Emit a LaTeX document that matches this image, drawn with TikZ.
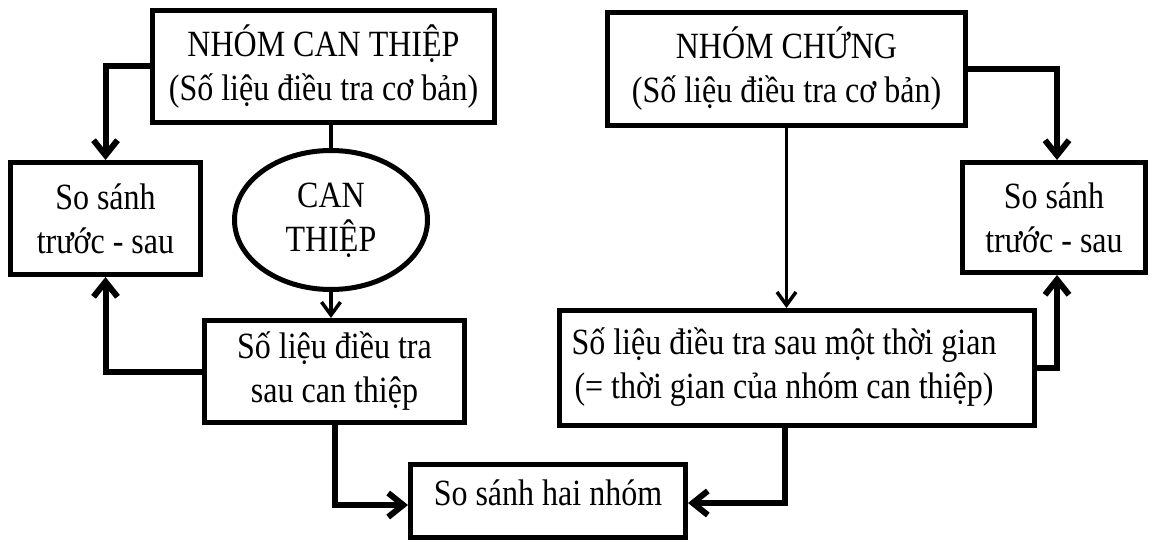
\documentclass[tikz,border=0pt]{standalone}
\usepackage{fontspec}
\setmainfont{Liberation Serif}[FakeStretch=0.865]
\usetikzlibrary{arrows.meta,shapes.geometric}
\begin{document}
\begin{tikzpicture}[x=1pt,y=-1pt,
  every node/.style={font=\fontsize{37}{44}\selectfont},
  box/.style={draw, rectangle, line width=5pt, align=center, inner sep=2pt},
  oval/.style={draw, ellipse, line width=5pt, align=center, inner sep=0pt},
  thickarrow/.style={line width=6pt, -{Straight Barb[length=15pt,width=24pt]}},
  thinarrow/.style={line width=3.5pt, -{Straight Barb[length=13pt,width=19pt]}},
  thinline/.style={line width=3.5pt},
  thickline/.style={line width=6pt}]
\useasboundingbox (0,0) rectangle (1152,543);
\node[box, minimum width=342pt, minimum height=112pt] (A) at (323.5,66.5)
  {NHÓM CAN THIỆP\\(Số liệu điều tra cơ bản)};
\node[box, minimum width=190pt, minimum height=112pt] (B) at (105.5,218.5)
  {So sánh\\trước - sau};
\node[oval, minimum width=193pt, minimum height=139pt] (ell) at (331,220)
  {CAN\\THIỆP};
\node[box, minimum width=260pt, minimum height=102pt] (C) at (334.5,371.5)
  {Số liệu điều tra\\sau can thiệp};
\node[box, minimum width=275pt, minimum height=73pt, text height=32pt, text depth=24pt] (D) at (548,501)
  {So sánh hai nhóm};
\node[box, minimum width=358pt, minimum height=113pt] (E) at (786.5,69)
  {NHÓM CHỨNG\\(Số liệu điều tra cơ bản)};
\node[box, minimum width=183pt, minimum height=110pt] (F) at (1054,217.5)
  {So sánh\\trước - sau};
\node[box, minimum width=475pt, minimum height=115pt] (G) at (797,368)
  {\begin{tabular}{@{}c@{}}Số liệu điều tra sau một thời gian\\(= thời gian của nhóm can thiệp)\end{tabular}\hspace*{26pt}};

% left group
\draw[thickarrow] (A.west) -| (B.north);
\draw[thinline] (ell.north) -- (ell.north |- A.south);
\draw[thinarrow] (ell.south) -- (ell.south |- C.north);
\draw[thickarrow] (C.west) -| (B.south);
\draw[thickarrow] (C.south) |- ([yshift=-4pt]D.west);
% right group
\draw[thinarrow] (E.south) -- (E.south |- G.north);
\draw[thickarrow] (E.east) -| ([xshift=3pt]F.north);
\draw[thickarrow] (G.east) -| ([xshift=3pt]F.south);
\draw[thickarrow] ([xshift=-12pt]G.south) |- ([yshift=-2pt]D.east);
\end{tikzpicture}
\end{document}
